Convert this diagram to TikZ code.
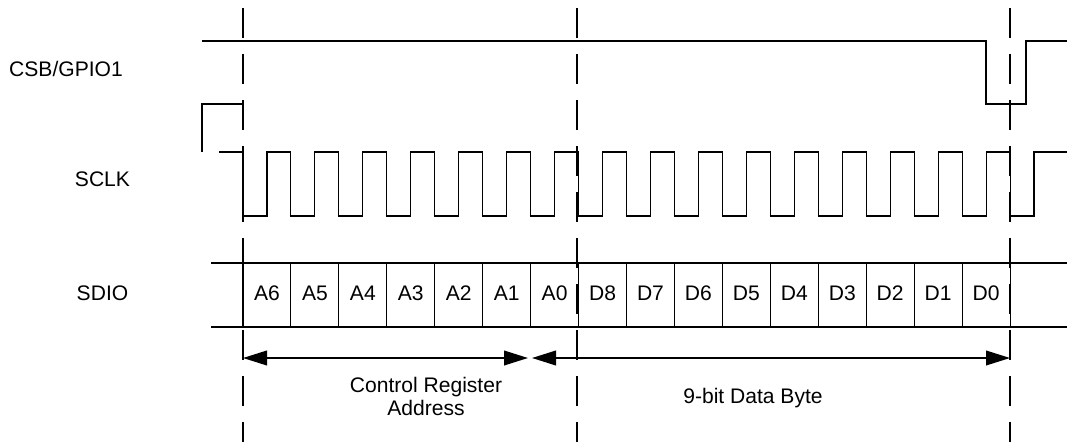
\documentclass[tikz,border=0pt]{standalone}
\usepackage{fontspec}
\setmainfont{Liberation Sans}
\usetikzlibrary{arrows.meta}
\begin{document}
\begin{tikzpicture}[x=0.75pt, y=-0.75pt,
		sig/.style={line width=0.8pt},
		marker/.style={line width=1.3pt, dash pattern=on 22.5pt off 12pt},
		span/.style={line width=1.3pt, {Triangle[length=18pt,width=11pt]}-{Triangle[length=18pt,width=11pt]}},
		lbl/.style={font=\fontsize{15.8}{17.25}\selectfont, inner sep=0pt, anchor=base}]
	\useasboundingbox (0,0) rectangle (1067,442);
	% signal names
	\node[lbl] (csb) at (66,77) {CSB/GPIO1};
	\node[lbl] (sclk) at (102.5,186) {SCLK};
	\node[lbl] (sdio) at (102.5,300) {SDIO};
	% CSB/GPIO1
	\draw[sig] (202,41) -- (986,41) -- (986,104) -- (1026,104) -- (1026,41) -- (1067,41);
	% SCLK
	\draw[sig] (202,152) -- (202,104) -- (243,104);
	\draw[sig] (219,152) -- (243,152)
		foreach \k in {0,...,16} {-- ++(0,64) -- ++(23.97,0) -- ++(0,-64) -- ++(23.97,0)}
		-- (1067,152);
	% SDIO
	\draw[sig] (211,263) -- (1067,263);
	\draw[sig] (211,327) -- (1067,327);
	\foreach \k in {0,...,16}
		\draw[sig] ({243+47.94*\k},263) -- ({243+47.94*\k},327);
	\foreach \b [count=\k from 0] in {A6,A5,A4,A3,A2,A1,A0,D8,D7,D6,D5,D4,D3,D2,D1,D0}
		\node[lbl] (cell\b) at ({243+47.94*\k+23.97},300.5) {\b};
	% time markers
	\coordinate (m0) at (243,8);
	\coordinate (m1) at (577,8);
	\coordinate (m2) at (1010,8);
	\foreach \m in {m0,m1,m2}
		\draw[marker] (\m) -- ++(0,434);
	% spans
	\coordinate (a0) at (243,358);
	\coordinate (a1) at (528,358);
	\coordinate (b0) at (532,358);
	\coordinate (b1) at (1010,358);
	\draw[span] (a0) -- (a1);
	\draw[span] (b0) -- (b1);
	\node[lbl, align=center] (addr) at (426,415) {Control Register\\Address};
	\node[lbl] (data) at (753,403) {9-bit Data Byte};
\end{tikzpicture}
\end{document}
